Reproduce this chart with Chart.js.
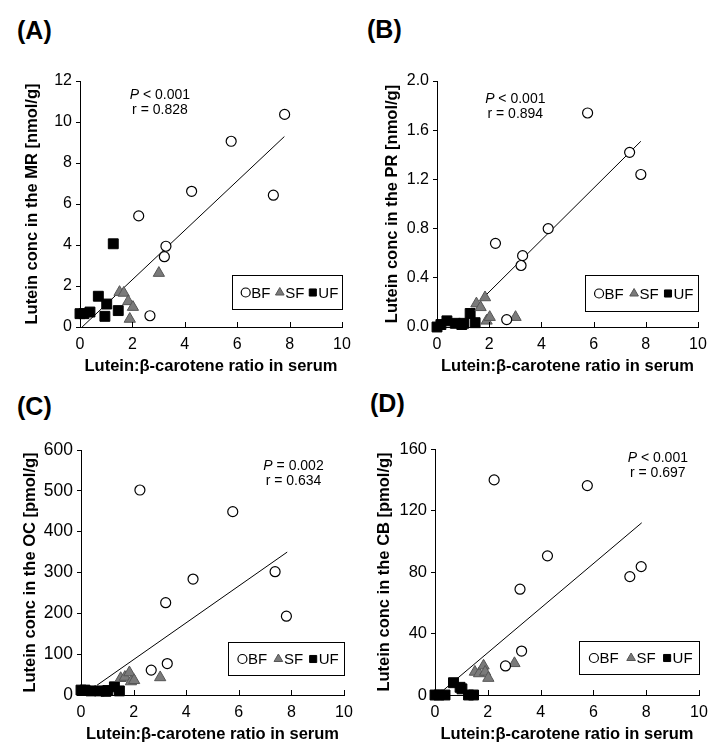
<!DOCTYPE html>
<html>
<head>
<meta charset="utf-8">
<script src="https://cdn.jsdelivr.net/npm/chart.js@4.4.0/dist/chart.umd.min.js"></script>
<style>
  body { margin: 0; background: #fff; }
  #wrap { position: relative; width: 725px; height: 754px; }
  .panel { position: absolute; width: 362px; height: 377px; }
  .panel canvas { position: absolute; left: 0; top: 0; }
  .tag { position: absolute; font: bold 25px "Liberation Sans", Arial, sans-serif; color: #000; line-height: 25px; }
</style>
</head>
<body>
<div id="wrap">
  <div class="panel" style="left:0;top:0"><div class="tag" style="left:17px;top:18px">(A)</div><canvas id="chartA" width="362" height="377"></canvas></div>
  <div class="panel" style="left:362px;top:0;width:363px"><div class="tag" style="left:5px;top:17px">(B)</div><canvas id="chartB" width="363" height="377"></canvas></div>
  <div class="panel" style="left:0;top:377px"><div class="tag" style="left:17px;top:17px">(C)</div><canvas id="chartC" width="362" height="377"></canvas></div>
  <div class="panel" style="left:362px;top:377px;width:363px"><div class="tag" style="left:8px;top:14px">(D)</div><canvas id="chartD" width="363" height="377"></canvas></div>
</div>
<script>
const FONT = '"Liberation Sans", Arial, sans-serif';

// shared x axis: Lutein:beta-carotene ratio in serum
const xTicks = [0, 2, 4, 6, 8, 10];

// BF group
const bfRatio = [2.24, 2.67, 3.22, 3.28, 4.26, 5.77, 7.38, 7.81];
const bfMR = [5.42, 0.55, 3.43, 3.94, 6.62, 9.06, 6.43, 10.37];
const bfPR = [0.68, 0.06, 0.50, 0.58, 0.80, 1.74, 1.42, 1.24];
const bfOC = [502, 61, 226, 77, 284, 449, 302, 193];
const bfCB = [139.9, 18.9, 68.8, 28.6, 90.5, 136.2, 77, 83.5];

// SF group
const sfRatio = [1.51, 1.67, 1.84, 1.90, 2.02, 3.01];
const sfMR = [1.70, 1.66, 1.25, 0.39, 0.97, 2.63];
const sfPR = [0.19, 0.16, 0.24, 0.05, 0.08, 0.08];
const sfOC = [41, 44, 55, 33, 36, 43];
const sfCB = [15, 14, 19, 15, 11, 20.6];

// UF group
const ufRatio = [0, 0.15, 0.38, 0.70, 0.95, 1.02, 1.27, 1.46];
const ufMR = [0.65, 0.65, 0.73, 1.50, 0.52, 1.12, 4.06, 0.80];
const ufPR = [0, 0.02, 0.05, 0.03, 0.02, 0.03, 0.11, 0.035];
const ufOC = [12, 12, 10, 10, 9, 11, 20, 10];
const ufCB = [0, 0, 0, 8, 5, 4, 0, 0];

// regression lines (end points)
const fitMRx = [0.08, 7.8],  fitMRy = [0, 9.29];
const fitPRx = [1.83, 7.81], fitPRy = [0.25, 1.51];
const fitOCx = [0.61, 7.84], fitOCy = [24, 350];
const fitCBx = [0.33, 7.83], fitCBy = [3.3, 112];

// y ticks
const yTicksMR = [0, 2, 4, 6, 8, 10, 12];
const yTicksPR = [0, 0.4, 0.8, 1.2, 1.6, 2.0];
const yTicksOC = [0, 100, 200, 300, 400, 500, 600];
const yTicksCB = [0, 40, 80, 120, 160];

const statsMR = ['< 0.001', 'r = 0.828'];
const statsPR = ['< 0.001', 'r = 0.894'];
const statsOC = ['= 0.002', 'r = 0.634'];
const statsCB = ['< 0.001', 'r = 0.697'];

const legendLabels = ['BF', 'SF', 'UF'];

function pairs(xs, ys) {
  return xs.map((x, i) => ({ x: x, y: ys[i] }));
}

const markerStyles = {
  BF: { pointStyle: 'circle', radius: 5, fill: '#ffffff', stroke: '#000000', lw: 1.2 },
  SF: { pointStyle: 'triangle', radius: 6.5, fill: '#7a7a7a', stroke: '#555555', lw: 1 },
  UF: { pointStyle: 'rect', radius: 7, fill: '#000000', stroke: '#000000', lw: 1 }
};

// stats text, legend box and inward x ticks
const extrasPlugin = {
  id: 'extras',
  afterDraw(chart, args, opts) {
    const ctx = chart.ctx;
    const area = chart.chartArea;
    const xs = chart.scales.x, ys = chart.scales.y;
    ctx.save();
    // inward x tick marks
    ctx.strokeStyle = '#000';
    ctx.lineWidth = 1;
    xTicks.forEach(v => {
      const px = Math.round(xs.getPixelForValue(v)) + 0.5;
      ctx.beginPath();
      ctx.moveTo(px, area.bottom);
      ctx.lineTo(px, area.bottom - 5);
      ctx.stroke();
    });
    // stats text
    const sx = xs.getPixelForValue(opts.statX);
    const sy = ys.getPixelForValue(opts.statY);
    ctx.fillStyle = '#000';
    ctx.textBaseline = 'middle';
    ctx.font = 'italic 14px ' + FONT;
    const pW = ctx.measureText('P ').width;
    ctx.font = '14px ' + FONT;
    const restW = ctx.measureText(opts.stats[0]).width;
    let left = sx - (pW + restW) / 2;
    ctx.textAlign = 'left';
    ctx.font = 'italic 14px ' + FONT;
    ctx.fillText('P', left, sy);
    ctx.font = '14px ' + FONT;
    ctx.fillText(opts.stats[0], left + pW, sy);
    ctx.textAlign = 'center';
    ctx.fillText(opts.stats[1], sx, sy + 15);
    // legend box
    const w = opts.legendW, h = opts.legendH;
    const bx = area.right - w + 0.5, by = area.bottom - opts.legendGap - h + 0.5;
    ctx.fillStyle = '#fff';
    ctx.fillRect(bx, by, w, h);
    ctx.strokeStyle = '#000';
    ctx.strokeRect(bx, by, w, h);
    const cy = by + h / 2;
    const offs = [0.12, 0.43, 0.73];
    legendLabels.forEach((lab, i) => {
      const m = markerStyles[lab];
      const mx = bx + w * offs[i];
      ctx.fillStyle = m.fill;
      ctx.strokeStyle = m.stroke;
      ctx.lineWidth = m.lw;
      Chart.helpers.drawPoint(ctx, { pointStyle: m.pointStyle, radius: lab === 'BF' ? 4.5 : 5, rotation: 0, borderWidth: m.lw }, mx, cy);
      ctx.fillStyle = '#000';
      ctx.textAlign = 'left';
      ctx.font = '15px ' + FONT;
      ctx.fillText(lab, mx + 5.5, cy + 1);
    });
    ctx.restore();
  }
};

function makePanel(id, cfg) {
  const ctx = document.getElementById(id).getContext('2d');
  const mk = (lab, ys) => {
    const m = markerStyles[lab];
    return {
      label: lab,
      data: pairs(lab === 'BF' ? bfRatio : lab === 'SF' ? sfRatio : ufRatio, ys),
      pointStyle: m.pointStyle,
      pointRadius: m.radius,
      backgroundColor: m.fill,
      borderColor: m.stroke,
      borderWidth: m.lw,
      showLine: false,
      clip: false
    };
  };
  return new Chart(ctx, {
    type: 'scatter',
    data: {
      datasets: [
        mk('BF', cfg.bf),
        mk('SF', cfg.sf),
        mk('UF', cfg.uf),
        {
          label: 'fit',
          data: pairs(cfg.fitX, cfg.fitY),
          showLine: true,
          borderColor: '#000',
          borderWidth: 1,
          pointRadius: 0,
          clip: false
        }
      ]
    },
    options: {
      responsive: false,
      animation: false,
      events: [],
      layout: { padding: cfg.pad },
      plugins: {
        legend: { display: false },
        tooltip: { enabled: false },
        extras: {
          stats: cfg.stats, statX: cfg.statX, statY: cfg.statY,
          legendW: cfg.legendW, legendH: cfg.legendH, legendGap: cfg.legendGap
        }
      },
      scales: {
        x: {
          type: 'linear',
          min: 0,
          max: 10,
          afterBuildTicks: s => { s.ticks = xTicks.map(v => ({ value: v })); },
          afterFit: s => { s.height = 50; },
          grid: { display: false, drawTicks: false },
          border: { display: true, color: '#000', width: 1 },
          ticks: { color: '#000', font: { family: FONT, size: 16 }, padding: 8, maxRotation: 0 },
          title: {
            display: true,
            text: 'Lutein:β-carotene ratio in serum',
            color: '#000',
            font: { family: FONT, size: 16.5, weight: 'bold' },
            padding: { top: 0, bottom: 1 }
          }
        },
        y: {
          type: 'linear',
          min: cfg.yTicks[0],
          max: cfg.yTicks[cfg.yTicks.length - 1],
          afterBuildTicks: s => { s.ticks = cfg.yTicks.map(v => ({ value: v })); },
          afterFit: s => { s.width = cfg.yw; },
          grid: { display: true, drawOnChartArea: false, drawTicks: true, tickLength: 4, color: '#000' },
          border: { display: true, color: '#000', width: 1 },
          ticks: {
            color: '#000',
            font: { family: FONT, size: cfg.yTickSize },
            padding: 4,
            callback: v => cfg.decimals ? v.toFixed(cfg.decimals) : v
          },
          title: {
            display: true,
            text: cfg.yTitle,
            color: '#000',
            font: { family: FONT, size: 16.5, weight: 'bold' },
            padding: { top: 9, bottom: 0 }
          }
        }
      }
    },
    plugins: [extrasPlugin]
  });
}

makePanel('chartA', {
  bf: bfMR, sf: sfMR, uf: ufMR, fitX: fitMRx, fitY: fitMRy,
  yTicks: yTicksMR, decimals: 0, yTitle: 'Lutein conc in the MR [nmol/g]', yTickSize: 16,
  stats: statsMR, statX: 3.05, statY: 11.3,
  pad: { left: 14, right: 20, top: 81, bottom: 0 }, yw: 66,
  legendW: 110, legendH: 34, legendGap: 18
});
makePanel('chartB', {
  bf: bfPR, sf: sfPR, uf: ufPR, fitX: fitPRx, fitY: fitPRy,
  yTicks: yTicksPR, decimals: 1, yTitle: 'Lutein conc in the PR [nmol/g]', yTickSize: 16,
  stats: statsPR, statX: 3.0, statY: 1.855,
  pad: { left: 12, right: 27, top: 81, bottom: 0 }, yw: 63,
  legendW: 113, legendH: 36, legendGap: 16
});
makePanel('chartC', {
  bf: bfOC, sf: sfOC, uf: ufOC, fitX: fitOCx, fitY: fitOCy,
  yTicks: yTicksOC, decimals: 0, yTitle: 'Lutein conc in the OC [pmol/g]', yTickSize: 17.5,
  stats: statsOC, statX: 8.08, statY: 560,
  pad: { left: 12, right: 18, top: 73, bottom: 9 }, yw: 69,
  legendW: 116, legendH: 33, legendGap: 20
});
makePanel('chartD', {
  bf: bfCB, sf: sfCB, uf: ufCB, fitX: fitCBx, fitY: fitCBy,
  yTicks: yTicksCB, decimals: 0, yTitle: 'Lutein conc in the CB [pmol/g]', yTickSize: 16.5,
  stats: statsCB, statX: 8.44, statY: 154,
  pad: { left: 4, right: 26, top: 72, bottom: 9 }, yw: 69,
  legendW: 120, legendH: 33, legendGap: 21
});
</script>
</body>
</html>
